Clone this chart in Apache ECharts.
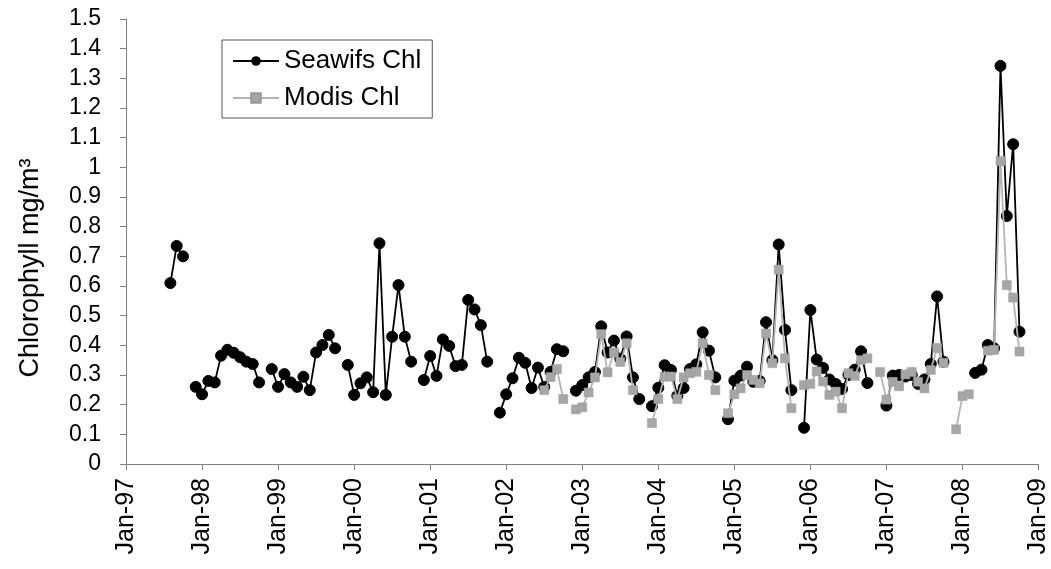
<!DOCTYPE html>
<html>
<head>
<meta charset="utf-8">
<script src="https://cdn.jsdelivr.net/npm/echarts@6/dist/echarts.min.js"></script>
<style>
  html, body { margin: 0; padding: 0; background: #fff; }
  #chart { width: 1051px; height: 569px; }
</style>
</head>
<body>
<div id="chart"></div>
<script>
// X tick labels (one per January, 12 months apart)
const yearLabels = ['Jan-97','Jan-98','Jan-99','Jan-00','Jan-01','Jan-02','Jan-03',
                    'Jan-04','Jan-05','Jan-06','Jan-07','Jan-08','Jan-09'];
// Y tick values
const yTicks = [0,0.1,0.2,0.3,0.4,0.5,0.6,0.7,0.8,0.9,1,1.1,1.2,1.3,1.4,1.5];

// Monthly values, Jan 1997 .. Dec 2008 (null = no data)
const seawifsChl = [
  null,null,null,null,null,null,null,0.61,0.735,0.70,null,0.26,          // 1997
  0.235,0.28,0.275,0.365,0.385,0.375,0.36,0.345,0.337,0.275,null,0.32,   // 1998
  0.26,0.303,0.275,0.26,0.294,0.249,0.376,0.401,0.435,0.39,null,0.334,   // 1999
  0.233,0.272,0.292,0.242,0.744,0.233,0.429,0.603,0.429,0.345,null,0.283,// 2000
  0.364,0.297,0.42,0.398,0.33,0.334,0.553,0.521,0.468,0.345,null,0.173,  // 2001
  0.235,0.289,0.358,0.341,0.256,0.325,0.26,0.311,0.387,0.38,null,0.247,  // 2002
  0.266,0.292,0.31,0.464,0.376,0.416,0.355,0.43,0.292,0.219,null,0.195,  // 2003
  0.257,0.333,0.317,0.23,0.256,0.32,0.336,0.444,0.382,0.292,null,0.151,  // 2004
  0.281,0.298,0.328,0.277,0.28,0.478,0.35,0.74,0.452,0.249,null,0.122,   // 2005
  0.519,0.352,0.324,0.285,0.27,0.253,0.30,0.318,0.38,0.273,null,null,    // 2006
  0.197,0.298,0.30,0.295,0.30,0.27,0.285,0.337,0.565,0.345,null,null,    // 2007
  null,null,0.307,0.318,0.401,0.39,1.342,0.836,1.078,0.446,null,null     // 2008
];
const modisChl = [
  null,null,null,null,null,null,null,null,null,null,null,null,           // 1997
  null,null,null,null,null,null,null,null,null,null,null,null,           // 1998
  null,null,null,null,null,null,null,null,null,null,null,null,           // 1999
  null,null,null,null,null,null,null,null,null,null,null,null,           // 2000
  null,null,null,null,null,null,null,null,null,null,null,null,           // 2001
  null,null,null,null,null,null,0.249,0.293,0.32,0.219,null,0.184,       // 2002
  0.191,0.241,0.292,0.438,0.309,0.376,0.344,0.407,0.249,null,null,0.138, // 2003
  0.219,0.294,0.295,0.219,0.292,0.306,0.311,0.407,0.30,0.249,null,0.171, // 2004
  0.235,0.255,0.30,0.283,0.272,0.44,0.34,0.655,0.356,0.188,null,0.266,   // 2005
  0.27,0.312,0.278,0.233,0.244,0.188,0.306,0.297,0.35,0.356,null,0.31,   // 2006
  0.217,0.277,0.262,0.302,0.31,0.277,0.255,0.317,0.391,0.341,null,0.117, // 2007
  0.229,0.235,null,null,0.382,0.385,1.021,0.603,0.561,0.379,null,null    // 2008
];

const toPairs = arr => arr.map((v, i) => [i, v === null ? '-' : v]);

const chart = echarts.init(document.getElementById('chart'), null, { renderer: 'canvas' });
const FONT = '"Liberation Sans", Arial, sans-serif';
const axisGray = '#808080';

chart.setOption({
  animation: false,
  backgroundColor: '#ffffff',
  grid: { left: 126, right: 3, top: 19, bottom: 105, containLabel: false },
  legend: {
    orient: 'vertical',
    left: 222, top: 40,
    padding: [8, 11, 7, 10],
    itemGap: 11,
    itemWidth: 46,
    itemHeight: 12,
    borderColor: '#555',
    borderWidth: 1,
    textStyle: { fontFamily: FONT, fontSize: 26, color: '#000' },
    data: ['Seawifs Chl', 'Modis Chl']
  },
  graphic: [{
    type: 'text',
    rotation: Math.PI / 2,
    x: 31, y: 268,
    style: {
      text: 'Chlorophyll mg/m³',
      font: '27px "Liberation Sans", Arial, sans-serif',
      fill: '#000',
      textAlign: 'center',
      textVerticalAlign: 'middle'
    }
  }],
  xAxis: {
    type: 'value',
    min: 0, max: 144, interval: 12,
    axisLine: { show: true, lineStyle: { color: axisGray, width: 1 } },
    axisTick: { show: true, inside: false, length: 6, lineStyle: { color: axisGray } },
    splitLine: { show: false },
    axisLabel: {
      rotate: 90,
      margin: 14,
      fontFamily: FONT, fontSize: 25, color: '#000',
      showMinLabel: true, showMaxLabel: true,
      formatter: v => yearLabels[Math.round(v / 12)]
    }
  },
  yAxis: {
    type: 'value',
    min: 0, max: 1.5, interval: 0.1,
    axisLine: { show: true, lineStyle: { color: axisGray, width: 1 } },
    axisTick: { show: true, inside: false, length: 6, lineStyle: { color: axisGray } },
    splitLine: { show: false },
    axisLabel: {
      margin: 25,
      fontFamily: FONT, fontSize: 23, color: '#000',
      formatter: v => String(yTicks[Math.round(v * 10)])
    }
  },
  series: [
    {
      name: 'Seawifs Chl',
      type: 'line',
      data: toPairs(seawifsChl),
      connectNulls: false,
      symbol: 'circle',
      symbolSize: 11,
      showSymbol: true,
      showAllSymbol: true,
      lineStyle: { color: '#000', width: 1.8 },
      itemStyle: { color: '#000', borderColor: '#000' },
      z: 2
    },
    {
      name: 'Modis Chl',
      type: 'line',
      data: toPairs(modisChl),
      connectNulls: false,
      symbol: 'rect',
      symbolSize: 9,
      showSymbol: true,
      showAllSymbol: true,
      lineStyle: { color: '#b4b4b4', width: 1.8 },
      itemStyle: { color: '#a6a6a6', borderColor: '#9a9a9a', borderWidth: 0.5 },
      z: 3
    }
  ]
});
</script>
</body>
</html>
